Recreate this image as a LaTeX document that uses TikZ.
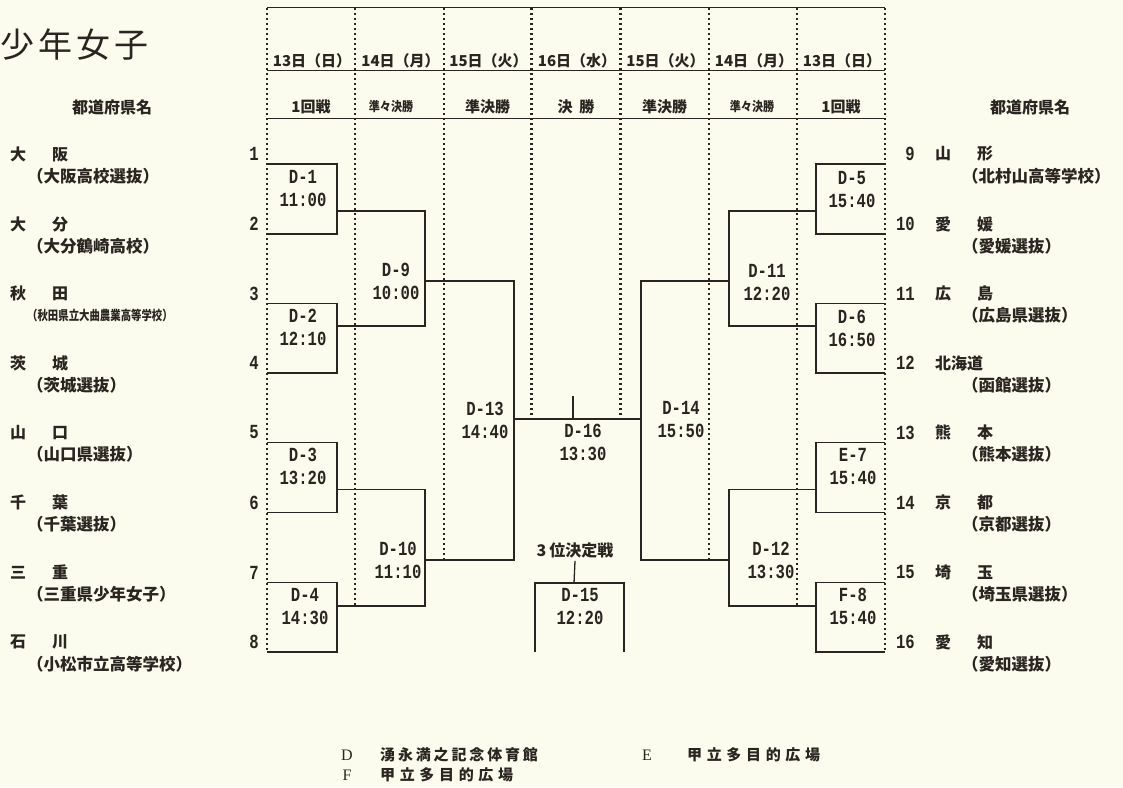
\documentclass[tikz,border=0pt]{standalone}
\usepackage{fontspec}
\setmainfont{Liberation Serif}
\newfontfamily\jp{Noto Sans CJK JP}
\newfontfamily\jptitle[LetterSpace=12]{Noto Sans CJK JP}
\newfontfamily\jpspa[LetterSpace=19]{Noto Sans CJK JP}
\newfontfamily\jpspb[LetterSpace=31]{Noto Sans CJK JP}
\newfontfamily\mono[FakeStretch=0.78]{Liberation Mono}
\definecolor{paper}{HTML}{FCFCEE}
\definecolor{ink}{HTML}{2A2520}
\tikzset{
  bline/.style={draw=ink, line width=1.3pt},
  dotline/.style={draw=ink, line width=2.2pt, dash pattern=on 2pt off 3pt},
  hline/.style={draw=ink, line width=1.4pt},
  match/.style={font=\mono\bfseries\fontsize{20}{23}\selectfont, align=center, text=ink, inner sep=0pt},
  num/.style={font=\mono\bfseries\fontsize{20}{20}\selectfont, text=ink, inner sep=0pt},
  pref/.style={font=\jp\bfseries\fontsize{16}{16}\selectfont, text=ink, anchor=west, inner sep=0pt},
  sub/.style={font=\jp\bfseries\fontsize{16.5}{16.5}\selectfont, text=ink, anchor=west, inner sep=0pt},
  datef/.style={font=\jp\bfseries\fontsize{15}{15}\selectfont, text=ink, inner sep=0pt},
  roundf/.style={font=\jp\bfseries\fontsize{15}{15}\selectfont, text=ink, inner sep=0pt},
  legl/.style={font=\fontsize{16}{16}\selectfont, text=ink, inner sep=0pt},
}
\begin{document}
\begin{tikzpicture}[x=1pt,y=-1pt]
\useasboundingbox (0,0) rectangle (1123,787);
\fill[paper] (0,0) rectangle (1123,787);

% title and column heads
\node[font=\jptitle\fontsize{34}{34}\selectfont, text=ink, anchor=west, inner sep=0pt] (title) at (0,45) {少年女子};
\node[font=\jp\bfseries\fontsize{16}{16}\selectfont, text=ink, inner sep=0pt] (hdl) at (112,107) {都道府県名};
\node[font=\jp\bfseries\fontsize{16}{16}\selectfont, text=ink, inner sep=0pt] (hdr) at (1030,107) {都道府県名};

% header lines
\coordinate (hL0) at (267,7.5);  \coordinate (hR0) at (885,7.5);
\coordinate (hL1) at (267,70.5); \coordinate (hR1) at (885,70.5);
\coordinate (hL2) at (267,118.5);\coordinate (hR2) at (885,118.5);
\draw[hline] (hL0) -- (hR0);
\draw[hline] (hL1) -- (hR1);
\draw[hline] (hL2) -- (hR2);

% dotted column lines
\foreach \x/\e in {267/652, 355/606, 444/560, 531.5/419, 620.5/419, 709/560, 797/606, 885/652}
  \draw[dotline] (\x,8) -- (\x,\e);

% dates
\node[datef] (dt1) at (312,61) {13日（日）};
\node[datef] (dt2) at (400.5,61) {14日（月）};
\node[datef] (dt3) at (488.5,61) {15日（火）};
\node[datef] (dt4) at (577,61) {16日（水）};
\node[datef] (dt5) at (665.5,61) {15日（火）};
\node[datef] (dt6) at (754,61) {14日（月）};
\node[datef] (dt7) at (842,61) {13日（日）};
% rounds
\node[roundf] (rd1) at (311,107) {1回戦};
\node[roundf] (rd2) at (391,107) {\fontsize{13}{13}\selectfont\scalebox{0.85}[1]{準々決勝}};
\node[roundf] (rd3) at (487.5,107) {準決勝};
\node[roundf] (rd4) at (576,107) {決\hspace{7pt}勝};
\node[roundf] (rd5) at (664.5,107) {準決勝};
\node[roundf] (rd6) at (752,107) {\fontsize{13}{13}\selectfont\scalebox{0.85}[1]{準々決勝}};
\node[roundf] (rd7) at (841,107) {1回戦};

% team slots
\foreach \i/\y in {1/164, 2/234, 3/303.5, 4/373, 5/442.5, 6/512.5, 7/582.5, 8/652}{
  \coordinate (L\i) at (267,\y);
  \node[num, anchor=east] (nL\i) at (259,\y-10) {\i};
}
\foreach \i/\y in {9/164, 10/234, 11/303.5, 12/373, 13/442.5, 14/512.5, 15/582.5, 16/652}{
  \coordinate (R\i) at (885,\y);
  \node[num, anchor=east] (nR\i) at (915,\y-10) {\i};
}

% left names
\node[pref] (p1) at (10,154) {大\hspace{26pt}阪};
\node[sub]  (s1) at (27,176) {（大阪高校選抜）};
\node[pref] (p2) at (10,224) {大\hspace{26pt}分};
\node[sub]  (s2) at (27,246) {（大分鶴崎高校）};
\node[pref] (p3) at (10,293.5) {秋\hspace{26pt}田};
\node[sub]  (s3) at (27,315.5) {\scalebox{0.63}[0.8]{（秋田県立大曲農業高等学校）}};
\node[pref] (p4) at (10,363) {茨\hspace{26pt}城};
\node[sub]  (s4) at (27,385) {（茨城選抜）};
\node[pref] (p5) at (10,432.5) {山\hspace{26pt}口};
\node[sub]  (s5) at (27,454.5) {（山口県選抜）};
\node[pref] (p6) at (10,502.5) {千\hspace{26pt}葉};
\node[sub]  (s6) at (27,524.5) {（千葉選抜）};
\node[pref] (p7) at (10,572.5) {三\hspace{26pt}重};
\node[sub]  (s7) at (27,594.5) {（三重県少年女子）};
\node[pref] (p8) at (10,642) {石\hspace{26pt}川};
\node[sub]  (s8) at (27,664) {（小松市立高等学校）};

% right names
\node[pref] (p9)  at (935,154) {山\hspace{26pt}形};
\node[sub]  (s9)  at (962,176) {（北村山高等学校）};
\node[pref] (p10) at (935,224) {愛\hspace{26pt}媛};
\node[sub]  (s10) at (962,246) {（愛媛選抜）};
\node[pref] (p11) at (935,293.5) {広\hspace{26pt}島};
\node[sub]  (s11) at (962,315.5) {（広島県選抜）};
\node[pref] (p12) at (935,363) {北海道};
\node[sub]  (s12) at (962,385) {（函館選抜）};
\node[pref] (p13) at (935,432.5) {熊\hspace{26pt}本};
\node[sub]  (s13) at (962,454.5) {（熊本選抜）};
\node[pref] (p14) at (935,502.5) {京\hspace{26pt}都};
\node[sub]  (s14) at (962,524.5) {（京都選抜）};
\node[pref] (p15) at (935,572.5) {埼\hspace{26pt}玉};
\node[sub]  (s15) at (962,594.5) {（埼玉県選抜）};
\node[pref] (p16) at (935,642) {愛\hspace{26pt}知};
\node[sub]  (s16) at (962,664) {（愛知選抜）};

% bracket joints
\coordinate (d1) at (337,211);   \coordinate (d2) at (337,326);
\coordinate (d3) at (337,489.5); \coordinate (d4) at (337,606);
\coordinate (d9) at (425,281);   \coordinate (d10) at (425,560);
\coordinate (d13) at (514,419);
\coordinate (d5) at (816,211);   \coordinate (d6) at (816,326);
\coordinate (d7) at (816,489.5); \coordinate (d8) at (816,606);
\coordinate (d11) at (729,281);  \coordinate (d12) at (729,560);
\coordinate (d14) at (641,419);
\coordinate (fin) at (573,396);

% first round
\draw[bline] (L1) -| (d1) |- (L2);
\draw[bline] (L3) -| (d2) |- (L4);
\draw[bline] (L5) -| (d3) |- (L6);
\draw[bline] (L7) -| (d4) |- (L8);
\draw[bline] (R9) -| (d5) |- (R10);
\draw[bline] (R11) -| (d6) |- (R12);
\draw[bline] (R13) -| (d7) |- (R14);
\draw[bline] (R15) -| (d8) |- (R16);
% quarter finals
\draw[bline] (d1) -| (d9) |- (d2);
\draw[bline] (d3) -| (d10) |- (d4);
\draw[bline] (d5) -| (d11) |- (d6);
\draw[bline] (d7) -| (d12) |- (d8);
% semi finals
\draw[bline] (d9) -| (d13) |- (d10);
\draw[bline] (d11) -| (d14) |- (d12);
% final
\draw[bline] (d13) -- (d14);
\draw[bline] (fin) -- (fin |- d13);

% third place
\node[font=\jp\bfseries\fontsize{16}{16}\selectfont, text=ink, inner sep=0pt] (third) at (575,550) {3\hspace{3pt}位決定戦};
\coordinate (d15t) at (574,583);
\coordinate (d15l) at (535,652);
\coordinate (d15r) at (624,652);
\path (third.south) ++(0,3) coordinate (thb);
\draw[bline] (thb) -- (d15t);
\draw[bline] (d15l) |- (d15t) -| (d15r);

% match labels
\node[match] (m1)  at (303,188.5) {D-1\\11:00};
\node[match] (m2)  at (303,327)   {D-2\\12:10};
\node[match] (m3)  at (303,466)   {D-3\\13:20};
\node[match] (m4)  at (305,606.5) {D-4\\14:30};
\node[match] (m9)  at (396,281)   {D-9\\10:00};
\node[match] (m10) at (398,560)   {D-10\\11:10};
\node[match] (m13) at (485,420)   {D-13\\14:40};
\node[match] (m16) at (583,442.5) {D-16\\13:30};
\node[match] (m15) at (580,606.5) {D-15\\12:20};
\node[match] (m5)  at (852,190)   {D-5\\15:40};
\node[match] (m6)  at (852,328)   {D-6\\16:50};
\node[match] (m7)  at (853,466.5) {E-7\\15:40};
\node[match] (m8)  at (853,606.5) {F-8\\15:40};
\node[match] (m11) at (767,283)   {D-11\\12:20};
\node[match] (m12) at (771,560)   {D-12\\13:30};
\node[match] (m14) at (681,420)   {D-14\\15:50};

% legend
\node[legl] (lgD) at (347,755) {D};
\node[font=\jpspa\bfseries\fontsize{15}{15}\selectfont, text=ink, anchor=west, inner sep=0pt] (lgDt) at (380,755) {湧永満之記念体育館};
\node[legl] (lgE) at (647,755) {E};
\node[font=\jpspb\bfseries\fontsize{15}{15}\selectfont, text=ink, anchor=west, inner sep=0pt] (lgEt) at (687,755) {甲立多目的広場};
\node[legl] (lgF) at (347,775) {F};
\node[font=\jpspb\bfseries\fontsize{15}{15}\selectfont, text=ink, anchor=west, inner sep=0pt] (lgFt) at (380,775) {甲立多目的広場};
\end{tikzpicture}
\end{document}
